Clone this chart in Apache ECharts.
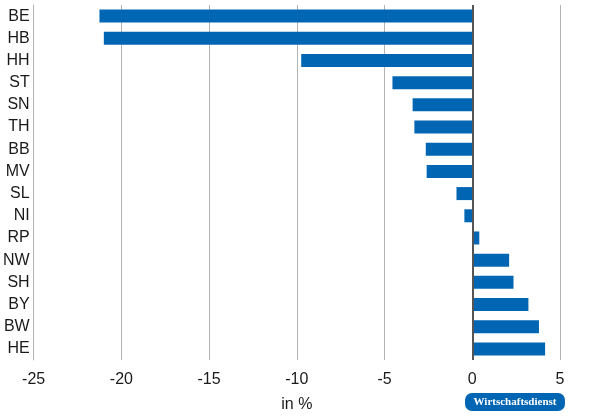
<!DOCTYPE html>
<html>
<head>
<meta charset="utf-8">
<script src="https://cdn.jsdelivr.net/npm/echarts@6/dist/echarts.min.js"></script>
<style>html,body{margin:0;padding:0;background:#fff}#c{width:600px;height:418px}</style>
</head>
<body>
<div id="c"></div>
<script>
const categories = ['BE','HB','HH','ST','SN','TH','BB','MV','SL','NI','RP','NW','SH','BY','BW','HE'];
const values = [-21.25, -21.0, -9.75, -4.55, -3.4, -3.3, -2.65, -2.6, -0.9, -0.45, 0.4, 2.1, 2.35, 3.2, 3.8, 4.15];
const xTicks = { min: -25, max: 5, interval: 5 };
const axisTitle = 'in %';
const brand = 'Wirtschaftsdienst';

const chart = echarts.init(document.getElementById('c'), null, { renderer: 'canvas' });
chart.setOption({
  animation: false,
  grid: { left: 33, right: 40, top: 5, bottom: 58 },
  xAxis: {
    type: 'value', min: xTicks.min, max: xTicks.max, interval: xTicks.interval,
    name: axisTitle, nameLocation: 'middle', nameGap: 37,
    nameTextStyle: { fontFamily: 'Liberation Sans, Arial, sans-serif', fontSize: 16, color: '#1a1a1a' },
    axisLine: { show: false }, axisTick: { show: false },
    axisLabel: { fontFamily: 'Liberation Sans, Arial, sans-serif', fontSize: 16, color: '#1a1a1a', margin: 12 },
    splitLine: { show: true, lineStyle: { color: '#b4b4b4', width: 1 } }
  },
  yAxis: {
    type: 'category', data: categories, inverse: true,
    axisLine: { show: true, onZero: false, lineStyle: { color: '#b4b4b4', width: 1 } },
    axisTick: { show: false },
    axisLabel: { fontFamily: 'Liberation Sans, Arial, sans-serif', fontSize: 16, color: '#1a1a1a', margin: 4 }
  },
  series: [{
    type: 'bar', data: values, barWidth: 13,
    itemStyle: { color: '#0066b3' },
    markLine: {
      silent: true, symbol: 'none', label: { show: false },
      lineStyle: { color: '#555', width: 2, type: 'solid' },
      data: [{ xAxis: 0 }]
    }
  }],
  graphic: [{
    type: 'group', left: 465, top: 393,
    children: [
      { type: 'rect', shape: { x: 0, y: 0, width: 100, height: 18, r: 7 }, style: { fill: '#0066b3' } },
      { type: 'text', x: 50, y: 9.5, style: { text: brand, fill: '#fff', font: 'bold 11px "Liberation Serif", serif', align: 'center', verticalAlign: 'middle' } }
    ]
  }]
});
</script>
</body>
</html>
